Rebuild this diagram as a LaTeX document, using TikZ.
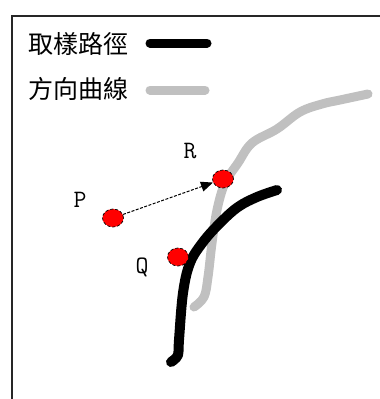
\documentclass[tikz,border=0pt]{standalone}
\usepackage{fontspec}
\setmainfont{Liberation Serif}
\newfontfamily\cjk{Noto Sans CJK TC}
\usetikzlibrary{arrows.meta,shapes.geometric}
\definecolor{curvegray}{RGB}{192,192,192}
\tikzset{
  frameline/.style={line width=2pt, draw=black!85},
  pathline/.style={line width=10pt, black, line cap=round, line join=round},
  dirline/.style={line width=9pt, curvegray, line cap=round, line join=round},
  legline/.style={line width=9pt, line cap=round},
  legtext/.style={font=\cjk\fontsize{25}{27}\selectfont, anchor=west, inner sep=0pt},
  ptlabel/.style={font=\ttfamily\fontsize{25}{27}\selectfont, inner sep=0pt},
  dot/.style={ellipse, fill=red, draw=black, densely dashed, line width=0.7pt, minimum width=21pt, minimum height=18pt, inner sep=0pt},
}
\begin{document}
\begin{tikzpicture}[x=1pt,y=-1pt]
\useasboundingbox (0,0) rectangle (380,399);
\fill[white] (0,0) rectangle (380,399);
% frame
\draw[frameline] (12,399) -- (12,16) -- (380,16);
% legend
\node[legtext] (t1) at (28,44) {取樣路徑};
\node[legtext] (t2) at (28,89) {方向曲線};
\coordinate (l1a) at (150,43); \coordinate (l1b) at (207,43);
\coordinate (l2a) at (150,90); \coordinate (l2b) at (205,90);
\draw[legline, black] (l1a) -- (l1b);
\draw[legline, curvegray] (l2a) -- (l2b);
% gray direction curve
\draw[dirline] plot[smooth, tension=0.6] coordinates {(368,94) (340,100) (322,104) (300,112) (277,129) (252,143) (238,163) (225,183) (217,210) (212,243) (208,277) (204,297) (194,307)};
% black sample path
\draw[pathline] plot[smooth, tension=0.6] coordinates {(277,190) (257,197) (238,207) (220,223) (203,242) (190,263) (183,293) (179,340) (178,355) (171,362)};
% points
\node[dot] (R) at (223,179) {};
\node[dot] (P) at (113,218) {};
\node[dot] (Q) at (178,257) {};
\node[ptlabel] (Rl) at (190,151) {R};
\node[ptlabel] (Pl) at (80,200) {P};
\node[ptlabel] (Ql) at (142,267) {Q};
\draw[dash pattern=on 3pt off 1.5pt, line width=1pt, -{Triangle[length=12pt,width=10pt]}] (P) -- (R);
\end{tikzpicture}
\end{document}
